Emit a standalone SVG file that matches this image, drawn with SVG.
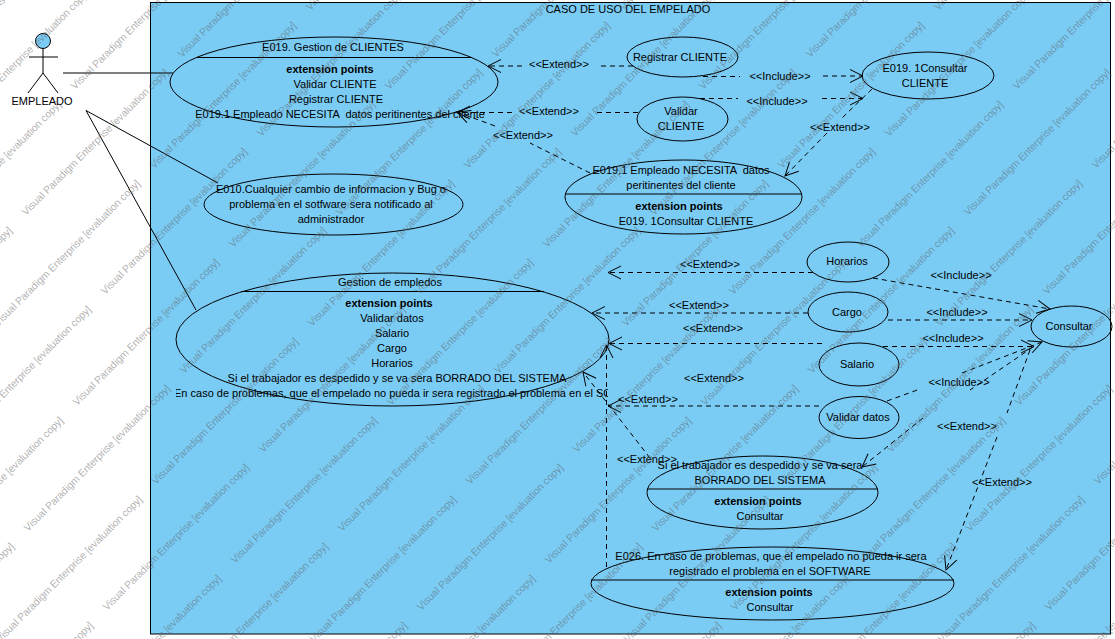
<svg xmlns="http://www.w3.org/2000/svg" xmlns:xlink="http://www.w3.org/1999/xlink" width="1115" height="639" viewBox="0 0 1115 639">
<style>
text{font-family:"Liberation Sans",Arial,sans-serif;font-size:11px;fill:#000;text-anchor:middle;white-space:pre}
.b{font-weight:bold}
.s{text-anchor:start}
.u{fill:#7accf5;stroke:#000;stroke-width:1}
.l{fill:none;stroke:#000;stroke-width:1}
.c{fill:none;stroke:#000;stroke-width:1}
.d{fill:none;stroke:#000;stroke-width:1;stroke-dasharray:5 4;marker-end:url(#open)}
.w{fill:#5a5a5a;fill-opacity:.48;text-anchor:start;font-size:10.5px}
</style>
<defs>
<marker id="open" markerUnits="userSpaceOnUse" markerWidth="32" markerHeight="32" viewBox="-16 -16 32 32" refX="0" refY="0" orient="auto" overflow="visible"><path d="M-13,-6.5L0,0L-13,6.5" fill="none" stroke="#000" stroke-width="1"/></marker>
<clipPath id="clipG"><rect x="176" y="380" width="432" height="30"/></clipPath>
<text id="wm" class="w" transform="rotate(-45)" textLength="202" lengthAdjust="spacing">Visual Paradigm Enterprise [evaluation copy]</text>
<g id="chainA">
<use href="#wm" x="54" y="54"/><use href="#wm" x="133" y="133"/><use href="#wm" x="212" y="212"/><use href="#wm" x="291" y="291"/><use href="#wm" x="370" y="370"/><use href="#wm" x="449" y="449"/><use href="#wm" x="528" y="528"/><use href="#wm" x="607" y="607"/><use href="#wm" x="686" y="686"/><use href="#wm" x="765" y="765"/>
</g>
<g id="chainB">
<use href="#wm" x="7" y="7"/><use href="#wm" x="86" y="86"/><use href="#wm" x="165" y="165"/><use href="#wm" x="244" y="244"/><use href="#wm" x="323" y="323"/><use href="#wm" x="402" y="402"/><use href="#wm" x="481" y="481"/><use href="#wm" x="560" y="560"/><use href="#wm" x="639" y="639"/><use href="#wm" x="718" y="718"/>
</g>
</defs>
<rect width="1115" height="639" fill="#fff"/>
<g id="system">
<rect class="u" x="150.5" y="2.5" width="960" height="631.5"/>
<text x="628" y="13">CASO DE USO DEL EMPELADO</text>
</g>
<g id="connectors">
<path class="c" d="M63,73H173"/>
<path class="c" d="M86,110.5L218,183"/>
<path class="c" d="M86,110.5L196,310"/>
<path class="d" d="M633,66H600M522,66H488"/>
<path class="d" d="M638,112.5H595M512,112.5H457"/>
<path class="d" d="M590,173L530,143M495,126L457,112"/>
<path class="d" d="M703,76.5H740M823,76H863"/>
<path class="d" d="M700,98.5H738M822,98.5H863"/>
<path class="d" d="M872,89L842,118M827,133L785,176"/>
<path class="d" d="M813,272.5H608"/>
<path class="d" d="M808,313H592"/>
<path class="d" d="M822,343.5H609"/>
<path class="d" d="M819,406H608"/>
<path class="d" d="M650,458L583,372"/>
<path class="d" d="M606.5,567V345"/>
<path class="d" d="M873,278L1050,309"/>
<path class="d" d="M888,320H1032"/>
<path class="d" d="M883,346.5H1034"/>
<path class="d" d="M887,401L920,389M962,373L1042,342"/>
<path class="d" d="M1033,347L970,390M923,418L862,467"/>
<path class="d" d="M1030,350L1007,413M997,437L946,570"/>
<text x="559" y="68">&lt;&lt;Extend&gt;&gt;</text>
<text x="549" y="115">&lt;&lt;Extend&gt;&gt;</text>
<text x="523" y="139">&lt;&lt;Extend&gt;&gt;</text>
<text x="780" y="80">&lt;&lt;Include&gt;&gt;</text>
<text x="777" y="105">&lt;&lt;Include&gt;&gt;</text>
<text x="840" y="131">&lt;&lt;Extend&gt;&gt;</text>
<text x="710" y="268">&lt;&lt;Extend&gt;&gt;</text>
<text x="699" y="309">&lt;&lt;Extend&gt;&gt;</text>
<text x="713" y="332">&lt;&lt;Extend&gt;&gt;</text>
<text x="714" y="382">&lt;&lt;Extend&gt;&gt;</text>
<text x="648" y="403">&lt;&lt;Extend&gt;&gt;</text>
<text x="647" y="463">&lt;&lt;Extend&gt;&gt;</text>
<text x="961" y="279">&lt;&lt;Include&gt;&gt;</text>
<text x="957" y="316">&lt;&lt;Include&gt;&gt;</text>
<text x="953" y="342">&lt;&lt;Include&gt;&gt;</text>
<text x="959" y="386">&lt;&lt;Include&gt;&gt;</text>
<text x="967" y="430">&lt;&lt;Extend&gt;&gt;</text>
<text x="1002" y="486">&lt;&lt;Extend&gt;&gt;</text>
</g>
<g id="actor-empleado">
<circle class="u" cx="43" cy="41" r="7.5"/>
<path class="l" d="M43,48.5V73M29,57H58M43,73L28,93M43,73L58,93"/>
<text x="42" y="105">EMPLEADO</text>
</g>
<g id="uc-e019">
<ellipse class="c" cx="334" cy="82" rx="164" ry="45"/>
<path class="l" d="M197,57.5H471"/>
<text x="333" y="51">E019. Gestion de CLIENTES</text>
<text class="b" x="330" y="73">extension points</text>
<text x="335" y="88">Validar CLIENTE</text>
<text x="336" y="103">Registrar CLIENTE</text>
<text x="340" y="118">E019.1 Empleado NECESITA  datos peritinentes del cliente</text>
</g>
<g id="uc-e010">
<ellipse class="c" cx="333.5" cy="204.5" rx="129.5" ry="30.5"/>
<text x="331" y="193">E010.Cualquier cambio de informacion y Bug o</text>
<text x="331" y="208">problema en el sotfware sera notificado al</text>
<text x="331" y="223">administrador</text>
</g>
<g id="uc-gestion-empleados">
<ellipse class="c" cx="392.5" cy="339.5" rx="216.5" ry="66.5"/>
<path class="l" d="M241,291.5H544"/>
<text x="390" y="286">Gestion de empledos</text>
<text class="b" x="389" y="307">extension points</text>
<text x="392" y="322">Validar datos</text>
<text x="392" y="337">Salario</text>
<text x="392" y="352">Cargo</text>
<text x="392" y="367">Horarios</text>
<text x="397" y="382">Si el trabajador es despedido y se va sera BORRADO DEL SISTEMA</text>
<text class="s" x="174" y="397" clip-path="url(#clipG)">En caso de problemas, que el empelado no pueda ir sera registrado el problema en el SOFTWARE</text>
</g>
<g id="uc-registrar">
<ellipse class="c" cx="682.5" cy="57" rx="55.5" ry="20"/>
<text x="680" y="61">Registrar CLIENTE</text>
</g>
<g id="uc-validar">
<ellipse class="c" cx="682.5" cy="119" rx="45.5" ry="22"/>
<text x="681" y="115">Validar</text>
<text x="681" y="130">CLIENTE</text>
</g>
<g id="uc-e0191">
<ellipse class="c" cx="683.5" cy="197" rx="118.5" ry="37"/>
<path class="l" d="M565,194H802"/>
<text x="681" y="174">E019.1 Empleado NECESITA  datos</text>
<text x="681" y="189">peritinentes del cliente</text>
<text class="b" x="679" y="210">extension points</text>
<text x="686" y="225">E019. 1Consultar CLIENTE</text>
</g>
<g id="uc-consultar-cliente">
<ellipse class="c" cx="928" cy="75.5" rx="66" ry="23.5"/>
<text x="925" y="72">E019. 1Consultar</text>
<text x="925" y="87">CLIENTE</text>
</g>
<g id="uc-horarios">
<ellipse class="c" cx="848" cy="262" rx="41" ry="20"/>
<text x="847" y="265">Horarios</text>
</g>
<g id="uc-cargo">
<ellipse class="c" cx="848" cy="312" rx="40" ry="20"/>
<text x="847" y="316">Cargo</text>
</g>
<g id="uc-salario">
<ellipse class="c" cx="859" cy="364.5" rx="40" ry="21.5"/>
<text x="857" y="368">Salario</text>
</g>
<g id="uc-validar-datos">
<ellipse class="c" cx="859" cy="417.5" rx="40" ry="21"/>
<text x="858" y="421">Validar datos</text>
</g>
<g id="uc-consultar">
<ellipse class="c" cx="1071.5" cy="326.5" rx="40.5" ry="20.5"/>
<text x="1069" y="330">Consultar</text>
</g>
<g id="uc-despedido">
<ellipse class="c" cx="762.5" cy="492.5" rx="115.5" ry="36.5"/>
<path class="l" d="M647,489H878"/>
<text x="760" y="469">Si el trabajador es despedido y se va sera</text>
<text x="760" y="484">BORRADO DEL SISTEMA</text>
<text class="b" x="758" y="505">extension points</text>
<text x="760" y="520">Consultar</text>
</g>
<g id="uc-e026">
<ellipse class="c" cx="772.5" cy="583.5" rx="181.5" ry="36.5"/>
<path class="l" d="M591,580H954"/>
<text x="771" y="560">E026. En caso de problemas, que el empelado no pueda ir sera</text>
<text x="770" y="575">registrado el problema en el SOFTWARE</text>
<text class="b" x="769" y="596">extension points</text>
<text x="770" y="611">Consultar</text>
</g>
<g id="watermark" transform="translate(4,2)">
<use href="#chainA" x="-818" y="2"/><use href="#chainA" x="-504" y="2"/><use href="#chainA" x="-190" y="2"/><use href="#chainA" x="124" y="2"/><use href="#chainA" x="438" y="2"/><use href="#chainA" x="752" y="2"/>
<use href="#chainB" x="-643" y="2"/><use href="#chainB" x="-329" y="2"/><use href="#chainB" x="-15" y="2"/><use href="#chainB" x="299" y="2"/><use href="#chainB" x="613" y="2"/><use href="#chainB" x="927" y="2"/>
</g>
</svg>
